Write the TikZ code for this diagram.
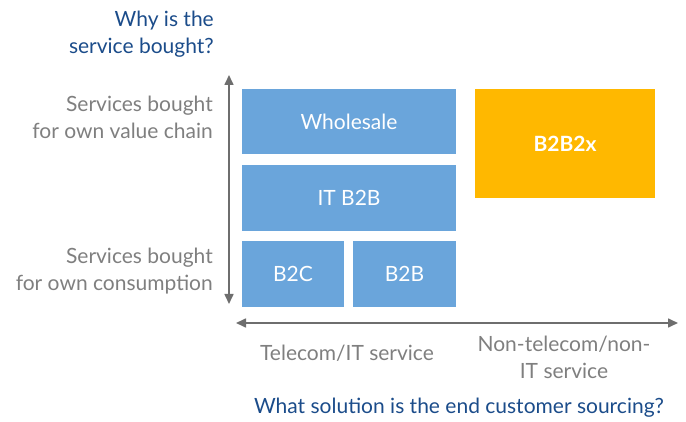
\documentclass[tikz,border=0pt]{standalone}
\usepackage{fontspec}
\setmainfont{Lato}
\usetikzlibrary{arrows.meta}
\definecolor{boxblue}{HTML}{6AA5DB}
\definecolor{boxorange}{HTML}{FFB800}
\definecolor{titleblue}{HTML}{1B4C8A}
\definecolor{labelgray}{HTML}{7F7F7F}
\definecolor{axisgray}{HTML}{6E6E6E}
\tikzset{
  cell/.style={fill=boxblue, text=white, font=\fontsize{21}{24}\selectfont, inner sep=0pt},
  hicell/.style={fill=boxorange, text=white, font=\bfseries\fontsize{21}{24}\selectfont, inner sep=0pt},
  axis/.style={draw=axisgray, line width=1.6pt, {Triangle[length=10pt,width=9pt]}-{Triangle[length=10pt,width=9pt]}},
  glabel/.style={text=labelgray, font=\fontsize{21}{27}\selectfont, inner sep=0pt},
  qlabel/.style={text=titleblue, font=\fontsize{21}{27}\selectfont, inner sep=0pt},
}
\begin{document}
\begin{tikzpicture}[x=1pt,y=-1pt]
\useasboundingbox (0,0) rectangle (686,422);
% boxes
\path[cell] (242,89) rectangle node (whole) {Wholesale} (456,154);
\path[cell] (242,165) rectangle node (itb2b) {IT B2B} (456,231);
\path[cell] (242,241) rectangle node (b2c) {B2C} (344,307);
\path[cell] (353,241) rectangle node (b2b) {B2B} (456,307);
\path[hicell] (475,89) rectangle node (b2b2x) {B2B2x} (655,198);
% axes
\coordinate (vtop) at (229,75);
\coordinate (vbot) at (229,304);
\coordinate (hl) at (236,323);
\coordinate (hr) at (678,323);
\draw[axis] (vbot) -- (vtop);
\draw[axis] (hl) -- (hr);
% labels
\node[qlabel, align=right, anchor=east] (why) at (214,34) {Why is the\\service bought?};
\node[glabel, align=right, anchor=east] (own) at (213,117) {Services bought\\for own value chain};
\node[glabel, align=right, anchor=east] (cons) at (213,271) {Services bought\\for own consumption};
\node[glabel] (tel) at (347,353) {Telecom/IT service};
\node[glabel, align=center] (non) at (564,357) {Non-telecom/non-\\IT service};
\node[qlabel] (what) at (459,408) {What solution is the end customer sourcing?};
\end{tikzpicture}
\end{document}
